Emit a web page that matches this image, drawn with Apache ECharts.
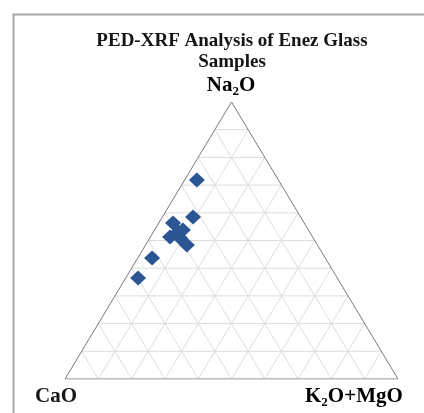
<!DOCTYPE html>
<html>
<head>
<meta charset="utf-8">
<script src="https://cdn.jsdelivr.net/npm/echarts@6/dist/echarts.min.js"></script>
<style>
  html, body { margin: 0; padding: 0; background: #fff; }
  #main { width: 424px; height: 413px; }
</style>
</head>
<body>
<div id="main"></div>
<script>
// 三元图数据 (%)
var naO   = [71.8, 58.5, 56.3, 53.8, 51.3, 50.9, 48.4, 53.1, 43.7, 36.5];
var kMgO  = [3.7, 9.2, 4.3, 8.5, 5.9, 9.1, 12.4, 7.4, 4.3, 3.7];
var caO   = [24.5, 32.3, 39.4, 37.7, 42.8, 40.0, 39.2, 39.5, 52.0, 59.8];
var gridSteps = [0.1, 0.2, 0.3, 0.4, 0.5, 0.6, 0.7, 0.8, 0.9];

// a = Na2O (top), b = K2O+MgO (right)
function toXY(a, b) {
    return [b + a / 2, a];
}

var myChart = echarts.init(document.getElementById('main'));

var points = [];
for (var i = 0; i < naO.length; i++) {
    var s = naO[i] + kMgO[i] + caO[i];
    points.push(toXY(naO[i] / s, kMgO[i] / s));
}

var series = [];
// 网格线
gridSteps.forEach(function (t) {
    var segs = [
        [toXY(t, 0), toXY(t, 1 - t)],
        [toXY(0, t), toXY(1 - t, t)],
        [toXY(0, 1 - t), toXY(1 - t, 0)]
    ];
    segs.forEach(function (seg) {
        series.push({
            type: 'line', data: seg, symbol: 'none', silent: true,
            lineStyle: { color: '#dcdcdc', width: 1 }, z: 1
        });
    });
});
// 三角形外框
series.push({
    type: 'line',
    data: [toXY(0, 0), toXY(0, 1), toXY(1, 0), toXY(0, 0)],
    symbol: 'none', silent: true,
    lineStyle: { color: '#7a7a7a', width: 1 }, z: 2
});
series.push({
    type: 'scatter',
    data: points,
    symbol: 'diamond',
    symbolSize: [16, 15],
    itemStyle: { color: '#2b5693', opacity: 1 },
    z: 5
});

var serif = 'Liberation Serif';
var rich = {
    n: { fontFamily: serif, fontWeight: 'bold', fontSize: 21, color: '#151515' },
    s: { fontFamily: serif, fontWeight: 'bold', fontSize: 13, color: '#151515', padding: [12, 0, 0, 0] }
};

var option = {
    animation: false,
    grid: { left: 65, right: 26, top: 102, bottom: 34 },
    xAxis: { type: 'value', min: 0, max: 1, show: false },
    yAxis: { type: 'value', min: 0, max: 1, show: false },
    graphic: [
        {
            type: 'rect', left: 11, top: 12,
            shape: { width: 600, height: 600 },
            style: { fill: 'none', stroke: '#a6a6a6', lineWidth: 2 }
        },
        {
            type: 'text', x: 232, y: 41,
            style: {
                text: 'PED-XRF Analysis of Enez Glass',
                align: 'center', verticalAlign: 'middle',
                fontFamily: serif, fontWeight: 'bold', fontSize: 19, fill: '#151515'
            }
        },
        {
            type: 'text', x: 232, y: 62,
            style: {
                text: 'Samples',
                align: 'center', verticalAlign: 'middle',
                fontFamily: serif, fontWeight: 'bold', fontSize: 19, fill: '#151515'
            }
        },
        {
            type: 'text', x: 231, y: 86,
            style: {
                text: '{n|Na}{s|2}{n|O}',
                align: 'center', verticalAlign: 'middle',
                rich: rich
            }
        },
        {
            type: 'text', x: 35, y: 397,
            style: {
                text: 'CaO',
                verticalAlign: 'middle',
                fontFamily: serif, fontWeight: 'bold', fontSize: 21, fill: '#151515'
            }
        },
        {
            type: 'text', x: 305, y: 397,
            style: {
                text: '{n|K}{s|2}{n|O+MgO}',
                verticalAlign: 'middle',
                rich: rich
            }
        }
    ],
    series: series
};
myChart.setOption(option);
</script>
</body>
</html>
